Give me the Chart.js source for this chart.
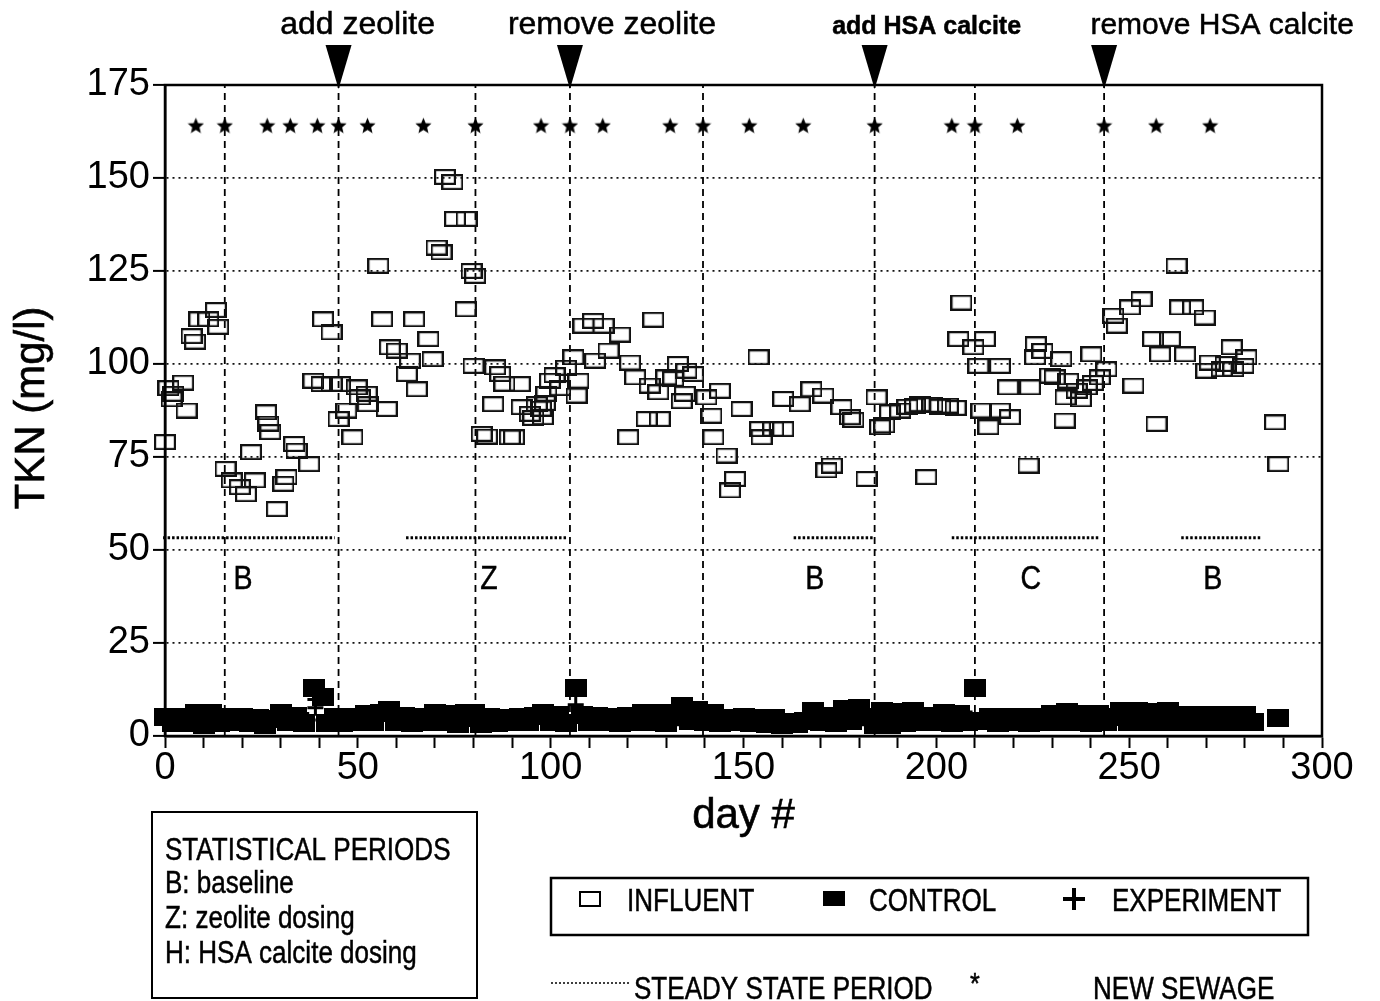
<!DOCTYPE html>
<html>
<head>
<meta charset="utf-8">
<title>TKN</title>
<script src="https://cdn.jsdelivr.net/npm/chart.js@4.4.1/dist/chart.umd.min.js"></script>
<style>
  body { margin: 0; background: #fff; }
  #wrap { width: 1380px; height: 1001px; }
</style>
</head>
<body>
<div id="wrap"><canvas id="graficoTKN" width="1380" height="1001"></canvas></div>
<script>
// Influent TKN (mg/l) by day
const influentDays = [
  0, 0.9, 1.7, 2.2, 4.7, 5.6, 6.9, 7.8, 8.9, 11.2,
  13.2, 13.8, 15.7, 17.3, 19.4, 21, 22.3, 23.3, 26.2, 26.8,
  27.3, 29, 30.7, 31.5, 33.5, 34.1, 37.4, 38.5, 40.6, 41,
  43.2, 43.2, 45, 45.4, 47, 48.6, 49.7, 50.5, 52.3, 52.6,
  55.3, 56.3, 57.5, 58.3, 60.1, 62.7, 63.5, 64.6, 65.3, 68.3,
  69.4, 70.4, 71.7, 72.6, 74.5, 75.2, 78.2, 78, 79.5, 80.4,
  80, 82.1, 83.5, 85.1, 85.6, 86.9, 88, 89.4, 90.5, 92,
  92.5, 94.6, 95.5, 96.4, 97.5, 98, 98.5, 98.9, 99.8, 101,
  102.5, 104, 105.9, 106.7, 107.2, 108.5, 111, 111.5, 113.7, 115,
  118, 120.1, 120.6, 121.9, 124.9, 125.7, 126.6, 127.9, 128.3, 130,
  131.8, 133, 134, 134.8, 135.2, 137, 140.4, 141.7, 142.2, 143.9,
  145.6, 146.5, 147.8, 149.5, 153.9, 154.3, 154.7, 157.7, 160.3, 160.3,
  164.6, 167.6, 170.7, 171.5, 172.9, 175.4, 177.6, 178.5, 181.9, 184.5,
  185.4, 186.5, 188, 190.6, 192.5, 194.5, 195.7, 197.4, 199, 201,
  203, 205, 205.7, 206.5, 209.6, 210.9, 211.7, 212.6, 213.5, 216.5,
  216.5, 218.6, 219.1, 223.9, 224.3, 225.6, 225.8, 227.5, 229.5, 230.7,
  232.4, 233.3, 233.5, 234.2, 236.4, 237.5, 239, 240.2, 240.6, 242.4,
  244.1, 245.9, 246.8, 250.2, 251.1, 253.2, 256.2, 257.1, 258, 260.6,
  262.3, 263.2, 264.5, 266.6, 269.6, 270, 270.9, 274, 275, 276.6,
  277, 279.6, 280.4, 287.8, 288.7
];
const influentTKN = [
  79, 93.5, 90.5, 92, 95, 87.5, 107.5, 106, 112, 112,
  114.5, 110, 71.8, 68.7, 66.9, 65, 76.3, 68.7, 87, 84,
  81.7, 61, 67.8, 69.6, 78.5, 76.7, 73.1, 95.5, 94.6, 112,
  108.5, 94.6, 85.2, 94.6, 87.5, 80.3, 93.7, 91, 92, 89.2,
  126.4, 112, 87.9, 104.5, 103.6, 97.3, 100.9, 112, 93.2, 106.7,
  101.3, 131.3, 130, 150.3, 148.9, 139, 139, 114.7, 125, 123.7,
  99.5, 81.2, 80.5, 89.2, 99.1, 97.3, 94.7, 80.3, 80.3, 94.6,
  88.4, 86.6, 85.5, 89.2, 88, 85.7, 89.5, 92, 95.5, 97,
  93.5, 99, 101.8, 91.5, 95.5, 110.3, 111.6, 100.9, 110.3, 103.6,
  107.9, 80.3, 100.4, 96.4, 85.2, 94.2, 111.9, 92.4, 85.2, 96.4,
  96, 100, 90, 92, 98.2, 97.3, 91, 86.1, 80.3, 92.8,
  75.4, 66, 69.1, 87.9, 101.8, 82.5, 80.3, 82.5, 82.5, 90.6,
  89.2, 93.2, 91.5, 71.4, 72.7, 88.4, 85.7, 85, 69.1, 91,
  83, 83.5, 87, 87.5, 88.5, 88.8, 89.2, 69.6, 89, 88.5,
  88.8, 88.2, 106.7, 116.5, 104.5, 99.5, 87.5, 106.7, 83, 99.5,
  87.5, 93.7, 85.7, 72.7, 93.7, 101.8, 105.3, 103.5, 96.9, 96.4,
  101.3, 84.8, 91, 95.5, 92.8, 90.5, 93.7, 102.6, 94.9, 96.4,
  98.6, 113, 110.3, 115.2, 94.2, 117.4, 106.7, 83.9, 102.6, 106.7,
  126.4, 115.2, 102.6, 115.2, 112.5, 98.2, 100.4, 98.6, 100, 104.5,
  98.6, 99.5, 101.8, 84.3, 73.1
];

// Control reactor effluent
const controlDays = [
  0, 2, 4, 6, 8, 10, 12, 14, 16, 18,
  20, 22, 24, 26, 28, 30, 32, 34, 36, 38.7,
  41, 42, 44, 46, 48, 50, 52, 54, 56, 58,
  60, 62, 64, 66, 68, 70, 72, 74, 76, 78,
  80, 82, 84, 86, 88, 90, 92, 94, 96, 98,
  100, 102, 104, 106.5, 108, 110, 112, 114, 116, 118,
  120, 122, 124, 126, 128, 130, 132, 134, 136, 138,
  140, 142, 144, 146, 148, 150, 152, 154, 156, 158,
  160, 162, 164, 166, 168, 170, 172, 174, 176, 178,
  180, 182, 184, 186, 188, 190, 192, 194, 196, 198,
  200, 202, 204, 206, 208, 210, 212, 214, 216, 218,
  220, 222, 224, 226, 228, 230, 232, 234, 236, 238,
  240, 242, 244, 246, 248, 250, 252, 254, 256, 258,
  260, 262, 264, 266, 268, 270, 272, 274, 276, 278,
  280, 282, 288.5
];
const controlTKN = [
  5.2, 3.5, 5.1, 3.4, 6.3, 3.0, 6.2, 3.6, 5.0, 3.8,
  5.0, 3.6, 4.9, 3.0, 4.6, 6.2, 3.8, 5.3, 3.6, 13.0,
  10.5, 3.6, 5.0, 3.6, 5.0, 3.8, 6.0, 3.7, 6.2, 6.9,
  3.8, 5.3, 3.6, 5.2, 3.8, 6.2, 3.7, 6.0, 3.1, 6.1,
  6.2, 3.2, 5.0, 3.6, 4.9, 3.7, 5.0, 3.8, 5.3, 6.2,
  3.7, 5.7, 3.6, 12.8, 5.6, 3.8, 5.3, 3.7, 5.2, 3.6,
  5.3, 3.8, 6.2, 3.7, 6.3, 3.6, 6.2, 8.0, 3.9, 6.9,
  3.7, 6.1, 3.6, 4.9, 3.7, 5.0, 3.6, 4.9, 3.1, 4.8,
  3.0, 3.8, 3.1, 3.9, 6.8, 3.8, 5.5, 3.6, 7.3, 3.9,
  7.4, 5.2, 3.0, 6.6, 2.9, 6.5, 3.6, 6.6, 3.7, 5.5,
  3.8, 6.1, 3.6, 6.0, 3.8, 13.0, 4.0, 5.1, 3.6, 5.0,
  3.7, 5.1, 3.6, 5.0, 3.8, 5.8, 3.7, 6.4, 3.8, 5.8,
  3.6, 5.8, 3.8, 5.2, 6.6, 3.8, 6.6, 3.7, 6.5, 3.8,
  6.6, 3.8, 5.7, 3.7, 5.7, 3.8, 5.6, 3.7, 5.7, 3.8,
  5.7, 3.7, 4.8
];

// Experimental reactor effluent
const experimentDays = [
  1, 5, 9, 13, 17, 21, 25, 29, 33, 37,
  39, 39, 43, 47, 51, 55, 59, 63, 67, 71,
  75, 79, 83, 87, 91, 95, 99, 103, 106.5, 109,
  113, 117, 121, 125, 129, 133, 137, 141, 145, 149,
  153, 157, 161, 165, 169, 173, 177, 181, 185, 189,
  193, 197, 201, 205, 209, 213, 217, 221, 225, 229,
  233, 237, 241, 245, 249, 253, 257, 261, 265, 269,
  273, 277, 281
];
const experimentTKN = [
  4.2, 3.8, 4.6, 4.0, 4.4, 3.9, 4.1, 4.5, 3.8, 4.3,
  9.8, 7.6, 4.2, 4.0, 4.6, 4.4, 4.8, 4.1, 4.3, 4.5,
  4.0, 4.6, 3.9, 4.2, 4.1, 4.4, 4.6, 4.3, 8.4, 4.5,
  4.1, 4.3, 4.0, 4.6, 4.4, 4.8, 5.0, 4.4, 4.1, 4.2,
  4.0, 3.8, 3.9, 4.2, 4.5, 4.3, 5.0, 4.8, 4.4, 4.2,
  4.3, 4.6, 4.4, 4.5, 4.7, 4.2, 4.0, 4.3, 4.1, 4.6,
  4.5, 4.8, 4.4, 4.6, 5.0, 4.7, 4.5, 4.6, 4.4, 4.3,
  4.5, 4.4, 4.6
];

// New sewage batches (stars along the top)
const sewageDays = [8, 15.5, 26.5, 32.5, 39.5, 45, 52.5, 67, 80.5, 97.5, 105, 113.5,
  131, 139.5, 151.5, 165.5, 184, 204, 210, 221, 243.5, 257, 271];
const sewageLevel = 164.2;

// Period boundaries and dosing events
const boundaryDays = [15.5, 45, 80.5, 105, 139.5, 184, 210, 243.5];
const eventDays = [45, 105, 184, 243.5];
const eventLabels = ['add zeolite', 'remove zeolite', 'add HSA calcite', 'remove HSA calcite'];

// Steady state periods
const steadyStart = [-0.5, 62.5, 163, 204, 263.5];
const steadyEnd = [44, 104, 184, 242.5, 284.5];
const steadyLevel = 53.3;

// Statistical period letters
const periodLetters = ['B', 'Z', 'B', 'C', 'B'];
const periodDays = [20.2, 84, 168.5, 224.5, 271.7];
const periodLevel = 39.5;

const FONT = '"Liberation Sans", Arial, Helvetica, sans-serif';

function boxImage(w, h, filled) {
    const c = document.createElement('canvas');
    c.width = w; c.height = h;
    const g = c.getContext('2d');
    if (filled) {
        g.fillStyle = '#000';
        g.fillRect(0, 0, w, h);
    } else {
        g.strokeStyle = '#111';
        g.lineWidth = 2.2;
        g.strokeRect(1.1, 1.1, w - 2.2, h - 2.2);
    }
    return c;
}

function starImage(size) {
    const c = document.createElement('canvas');
    c.width = size; c.height = size;
    const g = c.getContext('2d');
    const R = size / 2, r = R * 0.45;
    g.beginPath();
    for (let i = 0; i < 10; i++) {
        const a = -Math.PI / 2 + i * Math.PI / 5;
        const rad = i % 2 ? r : R;
        g.lineTo(R + rad * Math.cos(a), R + 1 + rad * Math.sin(a));
    }
    g.closePath();
    g.fillStyle = '#000';
    g.fill();
    return c;
}

function pairs(xs, ys) {
    return xs.map((d, i) => ({ x: d, y: ys[i] }));
}

// condensed text, like the narrow type of the legend boxes
function narrowText(ctx, text, x, y, size, align) {
    ctx.save();
    ctx.font = size + 'px ' + FONT;
    ctx.translate(x, y);
    ctx.scale(0.84, 1);
    ctx.textAlign = align || 'left';
    ctx.textBaseline = 'alphabetic';
    ctx.fillStyle = '#000';
    ctx.strokeStyle = '#000';
    ctx.lineWidth = 0.5;
    ctx.fillText(text, 0, 0);
    ctx.strokeText(text, 0, 0);
    ctx.restore();
}

const decorations = {
    id: 'decorations',
    afterDraw(chart) {
        const { ctx, chartArea: a, scales: { x, y } } = chart;
        ctx.save();

        // plot frame
        ctx.strokeStyle = '#000';
        ctx.lineWidth = 2.5;
        ctx.strokeRect(a.left, a.top, a.right - a.left, a.bottom - a.top);

        // event arrows and their labels
        const labelShift = [19, 42, 52, 118];
        const labelFonts = ['32px ' + FONT, '32px ' + FONT, 'bold 25px ' + FONT, '30px ' + FONT];
        eventDays.forEach((d, i) => {
            const px = x.getPixelForValue(d);
            ctx.beginPath();
            ctx.moveTo(px - 13, a.top - 40);
            ctx.lineTo(px + 13, a.top - 40);
            ctx.lineTo(px, a.top + 4);
            ctx.closePath();
            ctx.fillStyle = '#000';
            ctx.fill();
            ctx.font = labelFonts[i];
            ctx.textAlign = 'center';
            ctx.textBaseline = 'alphabetic';
            ctx.lineWidth = 0.5;
            ctx.fillText(eventLabels[i], px + labelShift[i], 34);
            ctx.strokeText(eventLabels[i], px + labelShift[i], 34);
        });

        // period letters
        periodLetters.forEach((t, i) => {
            narrowText(ctx, t, x.getPixelForValue(periodDays[i]), y.getPixelForValue(periodLevel), 34, 'center');
        });

        // axis titles
        ctx.fillStyle = '#000';
        ctx.font = '42px ' + FONT;
        ctx.textAlign = 'center';
        ctx.textBaseline = 'alphabetic';
        ctx.lineWidth = 0.6;
        ctx.fillText('day #', (a.left + a.right) / 2, 828);
        ctx.strokeText('day #', (a.left + a.right) / 2, 828);
        ctx.save();
        ctx.translate(32, 408);
        ctx.rotate(-Math.PI / 2);
        ctx.textBaseline = 'middle';
        ctx.fillText('TKN (mg/l)', 0, 0);
        ctx.strokeText('TKN (mg/l)', 0, 0);
        ctx.restore();

        // statistical periods key
        ctx.lineWidth = 2;
        ctx.strokeRect(152, 812, 325, 186);
        narrowText(ctx, 'STATISTICAL PERIODS', 165, 860, 31);
        narrowText(ctx, 'B: baseline', 165, 893, 31);
        narrowText(ctx, 'Z: zeolite dosing', 165, 928, 31);
        narrowText(ctx, 'H: HSA calcite dosing', 165, 963, 31);

        // series key
        ctx.lineWidth = 2.5;
        ctx.strokeRect(551, 878, 757, 57);
        ctx.lineWidth = 2;
        ctx.strokeRect(580, 892, 20, 14);
        narrowText(ctx, 'INFLUENT', 627, 911, 31);
        ctx.fillRect(823, 891, 22, 15);
        narrowText(ctx, 'CONTROL', 869, 911, 31);
        ctx.fillRect(1063, 897, 22, 4);
        ctx.fillRect(1072, 888, 4, 22);
        narrowText(ctx, 'EXPERIMENT', 1112, 911, 31);

        // steady state / new sewage key
        ctx.lineWidth = 1.5;
        ctx.setLineDash([2, 2]);
        ctx.beginPath();
        ctx.moveTo(551, 983);
        ctx.lineTo(629, 983);
        ctx.stroke();
        ctx.setLineDash([]);
        narrowText(ctx, 'STEADY STATE PERIOD', 634, 999, 31);
        narrowText(ctx, '*', 975, 993, 30, 'center');
        narrowText(ctx, 'NEW SEWAGE', 1093, 999, 31);

        ctx.restore();
    }
};

document.addEventListener('DOMContentLoaded', function() {
    const ctx = document.getElementById('graficoTKN');

    const influentBox = boxImage(22, 16, false);
    const controlBox = boxImage(22, 18, true);
    const star = starImage(17);

    const datasets = [];

    // new sewage stars
    datasets.push({
        label: 'new sewage',
        data: sewageDays.map(d => ({ x: d, y: sewageLevel })),
        pointStyle: star,
        pointRadius: 8,
        clip: false,
        order: 0
    });

    datasets.push({
        label: 'EXPERIMENT',
        data: pairs(experimentDays, experimentTKN),
        pointStyle: 'cross',
        pointRadius: 8,
        borderColor: '#000',
        borderWidth: 3,
        clip: false,
        order: 1
    });

    datasets.push({
        label: 'CONTROL',
        data: pairs(controlDays, controlTKN),
        pointStyle: controlBox,
        pointRadius: 11,
        clip: false,
        order: 2
    });

    datasets.push({
        label: 'INFLUENT',
        data: pairs(influentDays, influentTKN),
        pointStyle: influentBox,
        pointRadius: 11,
        clip: false,
        order: 3
    });

    // steady state segments
    steadyStart.forEach((s, i) => {
        datasets.push({
            label: 'steady ' + i,
            data: [{ x: s, y: steadyLevel }, { x: steadyEnd[i], y: steadyLevel }],
            showLine: true,
            pointRadius: 0,
            borderColor: '#000',
            borderWidth: 3,
            borderDash: [2.5, 2],
            clip: false,
            order: 5
        });
    });

    // period boundaries
    boundaryDays.forEach((d, i) => {
        datasets.push({
            label: 'boundary ' + i,
            data: [{ x: d, y: 0 }, { x: d, y: 175 }],
            showLine: true,
            pointRadius: 0,
            borderColor: '#000',
            borderWidth: 1.8,
            borderDash: [7, 5],
            order: 6
        });
    });

    new Chart(ctx, {
        type: 'scatter',
        data: { datasets: datasets },
        options: {
            responsive: false,
            animation: false,
            events: [],
            layout: { padding: { left: 0, top: 85, right: 58, bottom: 0 } },
            plugins: {
                legend: { display: false },
                tooltip: { enabled: false }
            },
            scales: {
                x: {
                    type: 'linear',
                    min: 0,
                    max: 300,
                    afterFit: function(scale) { scale.height = 265; },
                    ticks: {
                        stepSize: 10,
                        autoSkip: false,
                        maxRotation: 0,
                        padding: -2,
                        color: '#000',
                        font: { family: FONT, size: 38 },
                        callback: v => (v % 50 === 0 ? v : '')
                    },
                    grid: {
                        drawOnChartArea: false,
                        drawTicks: true,
                        tickLength: 12,
                        tickWidth: 2,
                        tickColor: '#000'
                    },
                    border: { color: '#000', width: 2.5 }
                },
                y: {
                    min: 0,
                    max: 175,
                    afterFit: function(scale) { scale.width = 165; },
                    ticks: {
                        stepSize: 25,
                        padding: 3,
                        color: '#000',
                        font: { family: FONT, size: 38 }
                    },
                    grid: {
                        color: '#111',
                        lineWidth: 1.8,
                        tickLength: 12,
                        tickWidth: 2,
                        tickColor: '#000'
                    },
                    border: { color: '#000', width: 2.5, dash: [2, 4] }
                }
            }
        },
        plugins: [decorations]
    });
});
</script>
</body>
</html>
